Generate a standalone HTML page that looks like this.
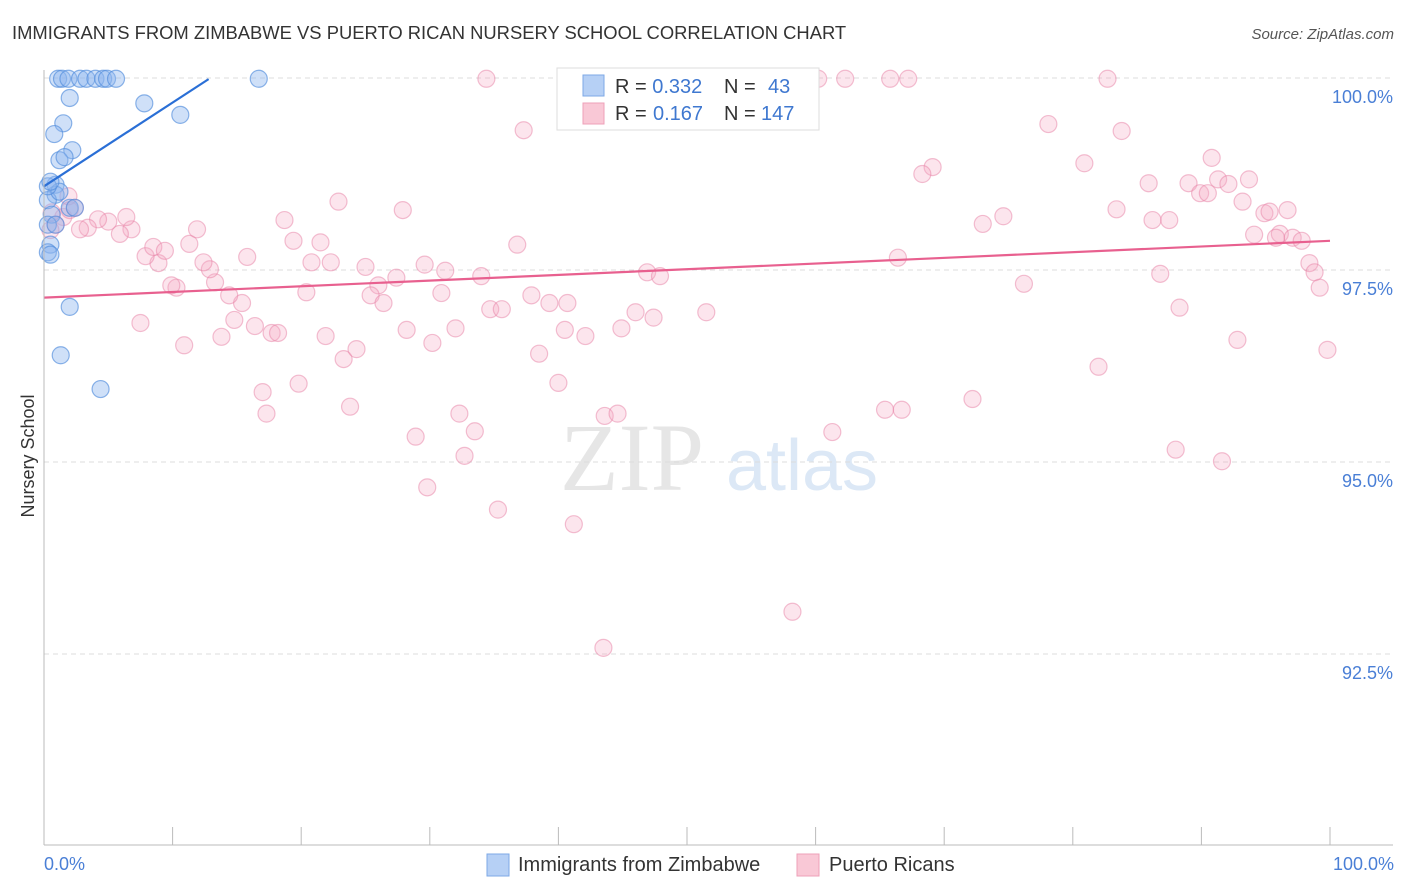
<!DOCTYPE html>
<html><head><meta charset="utf-8"><style>
body{margin:0;background:#fff;font-family:"Liberation Sans",sans-serif;}
</style></head><body>
<svg id="chart" width="1406" height="892" xmlns="http://www.w3.org/2000/svg" style="display:block">
<text x="12" y="39" font-size="18.4" fill="#333" font-family="Liberation Sans, sans-serif">IMMIGRANTS FROM ZIMBABWE VS PUERTO RICAN NURSERY SCHOOL CORRELATION CHART</text>
<text x="1394" y="39" font-size="15" fill="#555" text-anchor="end" font-style="italic">Source: ZipAtlas.com</text>
<text transform="translate(34,456) rotate(-90)" font-size="18" fill="#333" text-anchor="middle">Nursery School</text>
<g><text x="632" y="490" font-size="96" fill="#e6e6e6" font-family="Liberation Serif, serif" text-anchor="middle">ZIP</text><text x="802" y="490" font-size="72" fill="#dce8f6" text-anchor="middle">atlas</text></g>
<g id="grid"></g><g id="pink"></g><g id="blue"></g><g id="lines"></g>
<line x1="44" y1="70" x2="44" y2="845" stroke="#bbb"/>
<line x1="44" y1="845" x2="1393" y2="845" stroke="#bbb"/>
<text x="44" y="870" font-size="18" fill="#4a7fd6">0.0%</text>
<text x="1394" y="870" font-size="18" fill="#4a7fd6" text-anchor="end">100.0%</text>
<g>
<rect x="487" y="854" width="22" height="22" fill="#b6d0f5" stroke="#7ea8e6"/>
<text x="518" y="871" font-size="20" fill="#333">Immigrants from Zimbabwe</text>
<rect x="797" y="854" width="22" height="22" fill="#f9c8d6" stroke="#eea0b8"/>
<text x="829" y="871" font-size="20" fill="#333">Puerto Ricans</text>
</g>
<g>
<rect x="557" y="68" width="262" height="62" fill="#fff" stroke="#ddd"/>
<rect x="583" y="75" width="21" height="21" fill="#b6d0f5" stroke="#7ea8e6"/>
<rect x="583" y="103" width="21" height="21" fill="#f9c8d6" stroke="#eea0b8"/>
<text x="615" y="93" font-size="20" fill="#333">R = <tspan fill="#3f78d0">0.332</tspan><tspan x="724">N = </tspan><tspan x="768" fill="#3f78d0">43</tspan></text>
<text x="615" y="120" font-size="20" fill="#333">R = <tspan x="653" fill="#3f78d0">0.167</tspan><tspan x="724">N = </tspan><tspan x="761" fill="#3f78d0">147</tspan></text>
</g>
</svg>
<script>
const yTicks=[100,97.5,95,92.5];
const yTickLabels=["100.0%","97.5%","95.0%","92.5%"];
const xTicks=[0,10,20,30,40,50,60,70,80,90,100];
const pinkX=[34.4,49.1,50.2,53.6,59.4,60.2,62.3,65.8,67.2,82.7,46.5,37.3,78.1,83.8,80.9,69.1,68.3,90.8,85.9,89.0,91.3,93.7,92.1,89.9,90.5,93.2,83.4,74.6,73.0,86.2,87.5,94.9,95.3,96.7,94.1,96.1,95.8,97.1,97.8,98.4,98.8,99.2,99.8,86.8,88.3,76.2,82.0,72.2,92.8,88.0,91.6,65.4,66.7,61.3,66.4,58.2,43.5,41.2,35.3,29.8,32.7,33.5,32.3,28.9,23.8,17.3,17.0,19.8,23.3,24.3,21.9,17.7,18.2,16.4,13.8,10.9,7.5,14.8,15.4,14.4,13.3,12.9,10.3,9.9,8.9,7.9,8.5,9.4,11.3,12.4,11.9,6.8,5.9,5.0,4.2,6.4,3.4,2.8,1.5,2.0,1.9,2.4,0.9,0.5,18.7,19.4,21.5,20.8,22.3,22.9,27.9,25.0,20.4,15.8,26.0,25.4,26.4,27.4,29.6,31.2,30.9,34.0,34.7,35.6,37.9,39.3,40.7,28.2,30.2,32.0,38.5,40.0,40.5,42.1,44.9,46.0,47.4,46.9,47.9,51.5,36.8,43.6,44.6,0.6];
const pinkY=[99.99,99.99,99.99,99.99,99.99,99.99,99.99,99.99,99.99,99.99,99.70,99.32,99.40,99.31,98.89,98.84,98.75,98.96,98.63,98.63,98.68,98.68,98.62,98.50,98.50,98.39,98.29,98.20,98.10,98.15,98.15,98.24,98.26,98.28,97.96,97.97,97.92,97.92,97.88,97.59,97.47,97.27,96.46,97.45,97.01,97.32,96.24,95.82,96.59,95.16,95.01,95.68,95.68,95.39,97.66,93.05,92.58,94.19,94.38,94.67,95.08,95.40,95.63,95.33,95.72,95.63,95.91,96.02,96.34,96.47,96.64,96.68,96.68,96.77,96.63,96.52,96.81,96.85,97.07,97.17,97.34,97.51,97.27,97.30,97.59,97.68,97.80,97.75,97.84,97.60,98.03,98.03,97.97,98.13,98.16,98.19,98.05,98.03,98.19,98.28,98.46,98.31,98.09,98.02,98.15,97.88,97.86,97.60,97.60,98.39,98.28,97.54,97.21,97.67,97.30,97.17,97.07,97.40,97.57,97.49,97.20,97.42,96.99,96.99,97.17,97.07,97.07,96.72,96.55,96.74,96.41,96.03,96.72,96.64,96.74,96.95,96.88,97.47,97.42,96.95,97.83,95.60,95.63,98.25];
const blueX=[1.1,1.4,1.9,2.8,3.3,4.0,4.6,4.9,5.6,16.7,2.0,7.8,10.6,1.5,0.8,2.2,1.2,1.6,0.9,0.9,0.3,1.2,2.0,2.4,0.6,0.3,0.9,0.5,0.3,0.5,2.0,1.3,4.4,0.3,0.5];
const blueY=[99.99,99.99,99.99,99.99,99.99,99.99,99.99,99.99,99.99,99.99,99.74,99.67,99.52,99.41,99.27,99.06,98.93,98.97,98.61,98.48,98.41,98.52,98.31,98.31,98.22,98.09,98.09,97.83,97.73,97.70,97.02,96.39,95.95,98.59,98.65];
const blueTrend=[98.59,0.109];   // intercept, slope
const pinkTrend=[97.14,0.0074];
const blueTrendEnd=12.8;

const NS="http://www.w3.org/2000/svg";
const sx=v=>44+v*12.86;
const sy=v=>78+(100-v)*76.8;
function mk(tag,attrs,parent){const e=document.createElementNS(NS,tag);for(const k in attrs)e.setAttribute(k,attrs[k]);parent.appendChild(e);return e;}
const grid=document.getElementById('grid');
yTicks.forEach((t,i)=>{
  const l=mk('line',{x1:44,x2:1393,y1:sy(t),y2:sy(t),stroke:'#dcdcdc','stroke-dasharray':'5,4'},grid);
  
  
  const tx=mk('text',{x:1393,y:sy(t)+25,'font-size':18,fill:'#4a7fd6','text-anchor':'end'},grid);
  tx.textContent=yTickLabels[i];
  
  
});
xTicks.forEach(t=>{
  const l=mk('line',{x1:sx(t),x2:sx(t),y1:827,y2:845,stroke:'#bbb'},grid);
  
  
});
const pg=document.getElementById('pink');
pinkX.forEach((x,i)=>{
  const c=mk('circle',{cx:sx(x),cy:sy(pinkY[i]),r:8.5,fill:'rgba(246,170,195,0.3)',stroke:'rgba(232,130,165,0.5)','stroke-width':1.2},pg);
  
  
});
const bg=document.getElementById('blue');
blueX.forEach((x,i)=>{
  const c=mk('circle',{cx:sx(x),cy:sy(blueY[i]),r:8.5,fill:'rgba(140,182,238,0.42)',stroke:'rgba(80,140,220,0.65)','stroke-width':1.2},bg);
  
  
});
const lg=document.getElementById('lines');
const bl=mk('line',{x1:sx(0),y1:sy(blueTrend[0]),x2:sx(blueTrendEnd),y2:sy(blueTrend[0]+blueTrend[1]*blueTrendEnd),stroke:'#2a6fd6','stroke-width':2.2},lg);


const pl=mk('line',{x1:sx(0),y1:sy(pinkTrend[0]),x2:sx(100),y2:sy(pinkTrend[0]+pinkTrend[1]*100),stroke:'#e8608f','stroke-width':2.2},lg);


</script>
</body></html>
